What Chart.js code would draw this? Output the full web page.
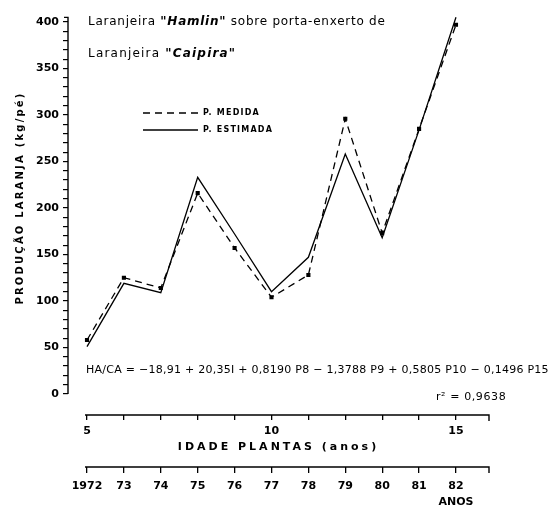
<!DOCTYPE html>
<html>
<head>
<meta charset="utf-8">
<script src="https://cdn.jsdelivr.net/npm/chart.js@4.4.0/dist/chart.umd.min.js"></script>
<style>
  html, body { margin: 0; padding: 0; background: #fff; }
  #wrap { width: 552px; height: 507px; }
</style>
</head>
<body>
<div id="wrap"><canvas id="prodChart"></canvas></div>
<script>
// Laranjeira Hamlin / Caipira - producao medida x estimada

const ages = [5, 6, 7, 8, 9, 10, 11, 12, 13, 14, 15];
const ageTickLabels = { 5: '5', 10: '10', 15: '15' };
const yearLabels = ['1972', '73', '74', '75', '76', '77', '78', '79', '80', '81', '82'];
const medida = [58, 125, 114, 216, 157, 104, 128, 296, 173, 285, 397];
const estimada = [51, 119, 109, 233, 172, 110, 147, 258, 168, 284, 405];
const yTickValues = [0, 10, 20, 30, 40, 50, 60, 70, 80, 90, 100, 110, 120, 130, 140, 150, 160, 170, 180, 190,
    200, 210, 220, 230, 240, 250, 260, 270, 280, 290, 300, 310, 320, 330, 340, 350, 360, 370, 380, 390, 400];

const FONT = '"DejaVu Sans", sans-serif';
const equationText = 'HA/CA = \u221218,91 + 20,35I + 0,8190 P8 \u2212 1,3788 P9 + 0,5805 P10 \u2212 0,1496 P15';
const r2Text = 'r\u00B2 = 0,9638';

// axis titles get letter spacing like the original lettering
function spacedTitle(scale, spacing, dy) {
    if (scale._spaced) return;
    const orig = scale.drawTitle;
    scale.drawTitle = function () {
        const ctx = this.ctx;
        ctx.save();
        ctx.letterSpacing = spacing;
        ctx.translate(0, dy);
        orig.call(this);
        ctx.restore();
    };
    scale._spaced = true;
}

function drawSegments(ctx, x, y, parts, spacing) {
    ctx.letterSpacing = spacing;
    parts.forEach(p => {
        ctx.font = p.font;
        ctx.fillText(p.text, x, y);
        x += ctx.measureText(p.text).width;
    });
}

function fitText(ctx, text, x, y, width) {
    ctx.letterSpacing = '0px';
    const w = ctx.measureText(text).width;
    ctx.letterSpacing = ((width - w) / text.length).toFixed(2) + 'px';
    ctx.fillText(text, x, y);
}

const paperPlugin = {
    id: 'paper',
    beforeDraw(chart) {
        spacedTitle(chart.scales.x, '3px', 0);
        spacedTitle(chart.scales.y, '2.2px', -17);
    },
    afterDraw(chart) {
        const { ctx, chartArea, scales } = chart;
        const x = scales.x, y = scales.y, yr = scales.year;
        ctx.save();
        ctx.strokeStyle = '#000';
        ctx.fillStyle = '#000';
        ctx.lineWidth = 1.4;

        // eixo Y
        ctx.beginPath();
        ctx.moveTo(chartArea.left, y.getPixelForValue(0));
        ctx.lineTo(chartArea.left, y.getPixelForValue(405));
        ctx.lineTo(chartArea.left - 4, y.getPixelForValue(405));
        ctx.stroke();

        // eixos X (idade e anos)
        [x.top, yr.top].forEach(py => {
            ctx.beginPath();
            ctx.moveTo(x.getPixelForValue(ages[0]) - 2, py);
            ctx.lineTo(chartArea.right, py);
            ctx.lineTo(chartArea.right, py + 6);
            ctx.stroke();
        });

        // titulo
        ctx.textBaseline = 'alphabetic';
        ctx.textAlign = 'left';
        drawSegments(ctx, 88, 25, [
            { text: 'Laranjeira ', font: '12px ' + FONT },
            { text: '"Hamlin"', font: 'italic bold 12px ' + FONT },
            { text: ' sobre porta-enxerto de', font: '12px ' + FONT }
        ], '0.75px');
        drawSegments(ctx, 88, 57, [
            { text: 'Laranjeira ', font: '12px ' + FONT },
            { text: '"Caipira"', font: 'italic bold 12px ' + FONT }
        ], '1.2px');

        // legenda
        ctx.textBaseline = 'middle';
        chart.data.datasets.forEach((ds, i) => {
            const ly = 113 + i * 17;
            ctx.save();
            ctx.lineWidth = ds.borderWidth;
            ctx.setLineDash(ds.borderDash || []);
            ctx.beginPath();
            ctx.moveTo(143, ly);
            ctx.lineTo(198, ly);
            ctx.stroke();
            ctx.restore();
            ctx.font = 'bold 8px ' + FONT;
            ctx.letterSpacing = '1.2px';
            ctx.fillText(ds.label, 203, ly);
        });

        // equacao de regressao
        ctx.font = '11px ' + FONT;
        ctx.textBaseline = 'alphabetic';
        fitText(ctx, equationText, 86, 373, 463);
        ctx.letterSpacing = '0.6px';
        ctx.fillText(r2Text, 436, 400);
        ctx.restore();
    }
};

new Chart(document.getElementById('prodChart'), {
    type: 'line',
    data: {
        datasets: [{
            label: 'P. MEDIDA',
            data: ages.map((a, i) => ({ x: a, y: medida[i] })),
            borderColor: '#000',
            backgroundColor: '#000',
            borderWidth: 1.3,
            borderDash: [7, 5],
            pointStyle: 'rect',
            pointRadius: 2,
            tension: 0
        }, {
            label: 'P. ESTIMADA',
            data: ages.map((a, i) => ({ x: a, y: estimada[i] })),
            borderColor: '#000',
            borderWidth: 1.3,
            pointRadius: 0,
            tension: 0
        }]
    },
    options: {
        responsive: true,
        maintainAspectRatio: false,
        animation: false,
        layout: { padding: { left: 0, top: 15, right: 63, bottom: 0 } },
        plugins: { legend: { display: false }, tooltip: { enabled: false } },
        scales: {
            x: {
                type: 'linear',
                position: 'bottom',
                weight: 0,
                min: 4.485,
                max: 15.895,
                afterBuildTicks: s => { s.ticks = ages.map(v => ({ value: v })); },
                afterFit: s => { s.height = 52; },
                border: { display: false },
                grid: { drawOnChartArea: false, tickLength: 5, color: '#000', lineWidth: 1.3 },
                ticks: {
                    color: '#000', padding: 5, maxRotation: 0, autoSkip: false,
                    font: { family: FONT, size: 11, weight: 'bold' },
                    callback: v => ageTickLabels[v] || ''
                },
                title: {
                    display: true, text: 'IDADE PLANTAS (anos)', color: '#000',
                    font: { family: FONT, size: 11, weight: 'bold' },
                    padding: { top: 0, bottom: 13 }
                }
            },
            year: {
                type: 'linear',
                position: 'bottom',
                weight: 1,
                min: 4.485,
                max: 15.895,
                afterBuildTicks: s => { s.ticks = ages.map(v => ({ value: v })); },
                afterFit: s => { s.height = 40; },
                border: { display: false },
                grid: { drawOnChartArea: false, tickLength: 6, color: '#000', lineWidth: 1.3 },
                ticks: {
                    color: '#000', padding: 5, maxRotation: 0, autoSkip: false,
                    font: { family: FONT, size: 11, weight: 'bold', lineHeight: 1.45 },
                    callback: (v, i) => i === yearLabels.length - 1 ? [yearLabels[i], 'ANOS'] : yearLabels[i]
                }
            },
            y: {
                type: 'linear',
                min: -22.6,
                max: 407.5,
                afterFit: s => { s.width = 68; },
                afterBuildTicks: s => { s.ticks = yTickValues.map(v => ({ value: v })); },
                border: { display: false },
                grid: { drawOnChartArea: false, tickLength: 5, color: '#000', lineWidth: 1.2 },
                ticks: {
                    color: '#000', padding: 4, autoSkip: false,
                    font: { family: FONT, size: 11, weight: 'bold' },
                    callback: v => (v % 50 === 0 ? String(v) : '')
                },
                title: {
                    display: true, text: 'PRODUÇÃO LARANJA (kg/pé)', color: '#000',
                    font: { family: FONT, size: 10, weight: 'bold' },
                    padding: { top: 14, bottom: 0 }
                }
            }
        }
    },
    plugins: [paperPlugin]
});
</script>
</body>
</html>
